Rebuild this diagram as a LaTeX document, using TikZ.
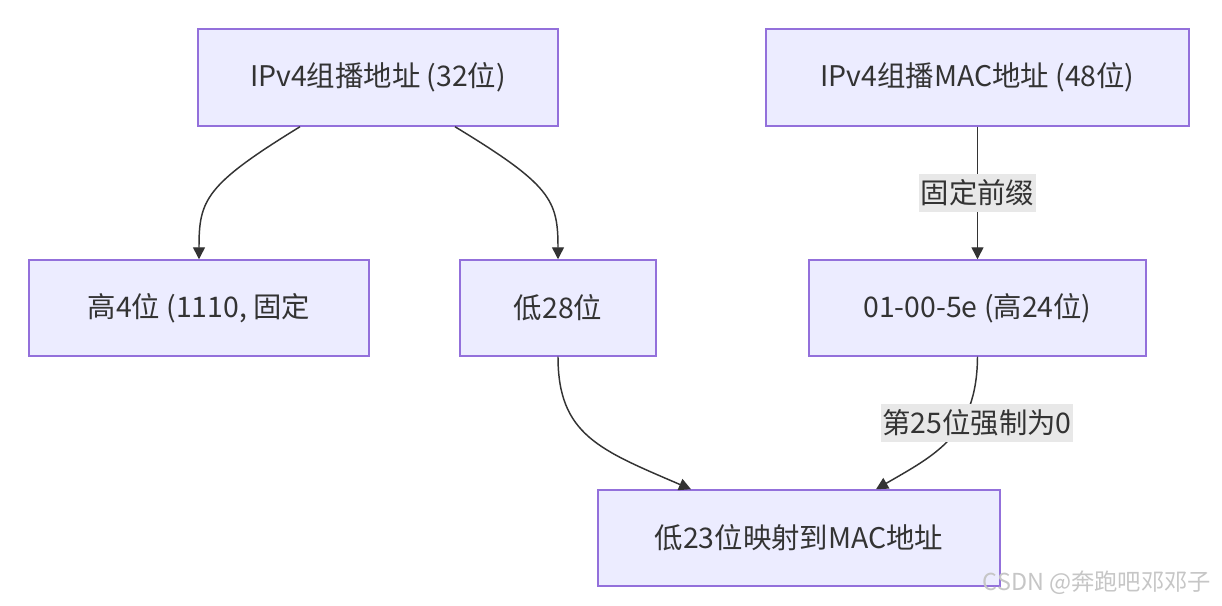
\documentclass[tikz,border=0pt]{standalone}
\usepackage{fontspec}
\setmainfont{Noto Sans CJK SC}
\usetikzlibrary{arrows.meta,calc}
\definecolor{nodefill}{HTML}{ECECFF}
\definecolor{nodedraw}{HTML}{9370DB}
\definecolor{txt}{HTML}{333333}
\definecolor{lblbg}{HTML}{E8E8E8}
\tikzset{
  box/.style={draw=nodedraw, fill=nodefill, line width=1.1pt, inner sep=0pt, text=txt, font=\fontsize{21.3}{25}\selectfont},
  conn/.style={draw=txt, line width=1.1pt, -{Triangle[length=9pt,width=9pt]}},
  lbl/.style={fill=lblbg, text=txt, inner xsep=1pt, inner ysep=4pt, font=\fontsize{21.3}{25}\selectfont},
}
\begin{document}
\begin{tikzpicture}[x=0.75pt,y=-0.75pt]
\useasboundingbox (0,0) rectangle (1222,606);
\fill[white] (0,0) rectangle (1222,606);
\node[box, minimum width=360*0.75pt, minimum height=97*0.75pt] (A) at (378,77.5) {IPv4组播地址 (32位)};
\node[box, minimum width=423*0.75pt, minimum height=97*0.75pt] (B) at (977.5,77.5) {IPv4组播MAC地址 (48位)};
\node[box, minimum width=340*0.75pt, minimum height=96*0.75pt] (C) at (199,308) {高4位 (1110, 固定};
\node[box, minimum width=196*0.75pt, minimum height=96*0.75pt] (D) at (558,308) {低28位};
\node[box, minimum width=337*0.75pt, minimum height=96*0.75pt] (E) at (977.5,308) {01-00-5e (高24位)};
\node[box, minimum width=402*0.75pt, minimum height=96*0.75pt] (F) at (799,538) {低23位映射到MAC地址};
\coordinate (a1) at ($(A.south)+(-78,0)$);
\coordinate (a2) at ($(A.south)+(77,0)$);
\coordinate (f1) at ($(F.north)+(-108,0)$);
\coordinate (f2) at ($(F.north)+(77,0)$);
\draw[conn] (a1) .. controls (205,185) and (199,200) .. (C.north);
\draw[conn] (a2) .. controls (551,185) and (558,200) .. (D.north);
\draw[conn] (B.south) -- node[lbl] {固定前缀} (E.north);
\draw[conn] (D.south) .. controls (558,435) and (600,450) .. (f1);
\draw[conn] (E.south) .. controls (977,435) and (935,455) .. (f2);
\node[lbl] (L2) at (977,423) {第25位强制为0};
\node[text=gray!45, font=\fontsize{17.5}{20}\selectfont, anchor=east] (W) at (1216,583) {CSDN @奔跑吧邓邓子};
\end{tikzpicture}
\end{document}
